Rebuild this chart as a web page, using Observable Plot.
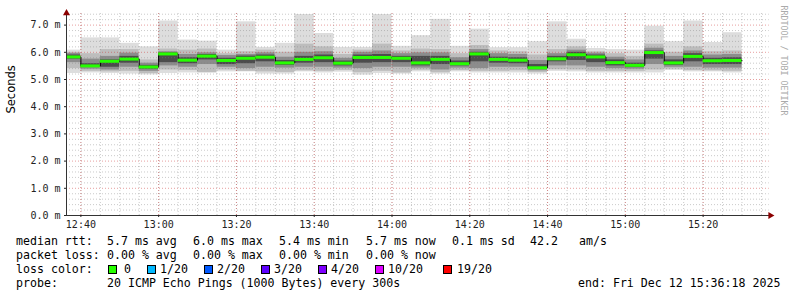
<!DOCTYPE html>
<html><head><meta charset="utf-8">
<script src="https://cdn.jsdelivr.net/npm/d3@7"></script>
<script src="https://cdn.jsdelivr.net/npm/@observablehq/plot@0.6"></script>
<style>
body{margin:0;background:#fff;}
#wrap{position:relative;width:797px;height:297px;overflow:hidden;background:#fff;}
#chart svg{display:block;}
.lg{position:absolute;font-family:"DejaVu Sans Mono",monospace;font-size:11.6px;line-height:14px;white-space:pre;color:#000;}
.sq{position:absolute;width:7px;height:7px;border:1px solid #000;}
</style></head><body>
<div id="wrap"><div id="chart"></div><div id="legend"></div></div>
<script>
// 5-minute slot start times (Dec 12 2025)
const slotStart = ["12:35","12:40","12:45","12:50","12:55","13:00","13:05","13:10","13:15","13:20","13:25","13:30","13:35","13:40","13:45","13:50","13:55","14:00","14:05","14:10","14:15","14:20","14:25","14:30","14:35","14:40","14:45","14:50","14:55","15:00","15:05","15:10","15:15","15:20","15:25"];
// median rtt (ms)
const medianMs = [5.83,5.50,5.67,5.75,5.46,5.94,5.71,5.86,5.70,5.78,5.82,5.61,5.74,5.80,5.60,5.81,5.81,5.78,5.61,5.74,5.58,5.94,5.74,5.71,5.43,5.76,5.91,5.83,5.62,5.52,5.99,5.61,5.85,5.69,5.70];
// smoke bands (ms): outer (min..max) and inner quantile bands
const minMs = [5.22,5.24,5.22,5.20,5.17,5.22,5.24,5.24,5.28,5.28,5.20,5.20,5.28,5.24,5.27,5.16,5.22,5.20,5.28,5.20,5.28,5.24,5.24,5.24,5.20,5.30,5.28,5.24,5.24,5.24,5.24,5.33,5.28,5.28,5.24];
const lo2Ms = [5.40,5.30,5.28,5.30,5.22,5.35,5.33,5.25,5.35,5.30,5.28,5.26,5.32,5.30,5.33,5.25,5.30,5.24,5.34,5.25,5.33,5.30,5.30,5.32,5.26,5.36,5.35,5.30,5.30,5.30,5.35,5.38,5.33,5.32,5.30];
const lo3Ms = [5.62,5.38,5.35,5.45,5.30,5.50,5.45,5.55,5.45,5.40,5.45,5.42,5.45,5.45,5.42,5.40,5.45,5.45,5.42,5.35,5.42,5.40,5.45,5.45,5.32,5.50,5.50,5.45,5.40,5.38,5.55,5.45,5.45,5.42,5.42];
const lo4Ms = [5.75,5.45,5.45,5.60,5.38,5.62,5.58,5.72,5.55,5.58,5.65,5.52,5.60,5.62,5.50,5.60,5.62,5.62,5.50,5.55,5.50,5.65,5.60,5.58,5.38,5.65,5.70,5.62,5.50,5.44,5.75,5.52,5.65,5.55,5.55];
const hi4Ms = [5.90,5.58,5.72,5.85,5.52,5.98,5.80,5.92,5.78,5.86,5.90,5.70,5.85,5.90,5.68,5.90,5.92,5.85,5.85,5.85,5.68,6.00,5.82,5.80,5.55,5.85,6.00,5.90,5.72,5.60,6.05,5.72,5.95,5.78,5.80];
const hi3Ms = [5.96,5.75,5.85,5.97,5.60,6.02,5.92,5.98,5.88,5.92,5.98,5.82,6.00,6.02,5.78,6.00,6.05,5.95,5.98,5.98,5.80,6.10,5.95,5.92,5.70,5.95,6.08,5.97,5.82,5.72,6.15,5.85,6.05,5.90,5.92];
const hi2Ms = [6.00,5.95,6.10,6.10,5.72,6.12,6.08,6.12,5.95,6.02,6.08,6.00,6.30,6.20,5.92,6.08,6.30,6.05,6.12,6.10,5.95,6.25,6.05,6.02,5.90,6.10,6.20,6.02,5.95,5.85,6.30,6.00,6.20,6.02,6.05];
const maxMs = [6.08,6.53,6.53,6.33,6.20,7.15,6.45,6.41,6.08,7.12,6.18,6.33,7.39,6.69,6.18,6.18,7.39,6.22,6.61,7.21,6.22,6.85,6.17,6.17,6.39,7.12,6.48,6.14,6.10,6.08,6.96,6.39,7.15,6.36,6.72];

const yTicks = [0,1,2,3,4,5,6,7];
const xTickLabels = ["12:40","13:00","13:20","13:40","14:00","14:20","14:40","15:00","15:20"];
const statsRtt = ["median rtt:","5.7 ms avg","6.0 ms max","5.4 ms min","5.7 ms now","0.1 ms sd","42.2","am/s"];
const statsLoss = ["packet loss:","0.00 % avg","0.00 % max","0.00 % min","0.00 % now"];
const lossLabels = ["0","1/20","2/20","3/20","4/20","10/20","19/20"];
const lossColors = ["#26ff00","#00b8ff","#0059ff","#5e00ff","#7e00ff","#dd00ff","#ff0000"];
const probeText = ["probe:","20 ICMP Echo Pings (1000 Bytes) every 300s","end: Fri Dec 12 15:36:18 2025"];

const t = s => { const [h,m] = s.split(":").map(Number); return new Date(Date.UTC(2025,11,12,h,m,0)); };
const T0 = new Date(Date.UTC(2025,11,12,12,36,18));
const T1 = new Date(Date.UTC(2025,11,12,15,36,18));
const MIN = 60000;

const bars = slotStart.map((s,i) => ({start: t(s), end: new Date(+t(s) + 5*MIN), median: medianMs[i]}));
const layerFills = ["#dddddd","#bdbdbd","#8c8c8c","#4c4c4c"];
const layers = [];
bars.forEach((b,i) => {
  const pairs = [[minMs[i],maxMs[i]],[lo2Ms[i],hi2Ms[i]],[lo3Ms[i],hi3Ms[i]],[lo4Ms[i],hi4Ms[i]]];
  pairs.forEach((p,k) => layers.push({x1:b.start, x2:b.end, y1:p[0], y2:p[1], fill:layerFills[k]}));
});
const medPts = bars.flatMap(b => [{x:b.start, y:b.median},{x:b.end, y:b.median}]);

const minorX = d3.utcMinute.every(5).range(t("12:40"), new Date(+T1));
const majorX = xTickLabels.map(t);
const minorY = d3.range(0, 7.5, 0.2).map(v => Math.round(v*10)/10).filter(v => !Number.isInteger(v));
const gridEnd = new Date(+T1 + 0.7*MIN);

const chart = Plot.plot({
  width: 797, height: 234,
  marginLeft: 66, marginRight: 31, marginTop: 11, marginBottom: 19,
  style: {fontFamily: "DejaVu Sans Mono", fontSize: "10px", color: "#222", background: "#fff"},
  x: {type: "utc", domain: [T0, T1]},
  y: {domain: [0, 7.5]},
  marks: [
    Plot.rect(layers, {x1:"x1", x2:"x2", y1:"y1", y2:"y2", fill:"fill", clip:true}),
    Plot.ruleY(minorY, {x1: () => T0, x2: () => gridEnd, stroke:"#808080", strokeOpacity:0.42, strokeDasharray:"1,2"}),
    Plot.ruleX(minorX, {y1: 0, y2: 7.5, stroke:"#808080", strokeOpacity:0.42, strokeDasharray:"1,2"}),
    Plot.ruleY(yTicks.slice(1), {x1: () => T0, x2: () => gridEnd, stroke:"#d04040", strokeOpacity:0.5, strokeDasharray:"1,2"}),
    Plot.ruleX(majorX, {y1: 0, y2: 7.5, stroke:"#d04040", strokeOpacity:0.5, strokeDasharray:"1,2"}),
    Plot.line(medPts, {x:"x", y:"y", stroke:"#000", strokeWidth:1, clip:true}),
    Plot.ruleY(bars, {x1:"start", x2:"end", y:"median", stroke:"#26ff00", strokeWidth:3, clip:true}),
    Plot.ruleY([0], {x1: () => T0, x2: () => new Date(+T1 + 0.9*MIN), stroke:"#333"}),
    Plot.ruleX([T0], {y1: 0, y2: 7.5, stroke:"#333"}),
    Plot.dot([0], {x: () => T0, y: () => 7.44, symbol:"triangle", r:2.6, fill:"#8b0000", stroke:null}),
    Plot.dot([0], {x: () => new Date(+T1 + 1.0*MIN), y: () => 0, symbol:"triangle", r:2.6, rotate:90, fill:"#8b0000", stroke:null}),
    Plot.axisX({ticks: majorX, tickFormat: d3.utcFormat("%H:%M"), tickSize: 2, tickPadding: 3, label: null}),
    Plot.axisY({ticks: yTicks, tickFormat: d => d.toFixed(1) + " m", tickSize: 2, tickPadding: 4, label: null}),
    Plot.text(["Seconds"], {frameAnchor:"left", dx:-55, rotate:-90, fontFamily:"DejaVu Sans", fontSize:11.5, fill:"#000"}),
    Plot.text(["RRDTOOL / TOBI OETIKER"], {frameAnchor:"top-right", dx:20, dy:-6, rotate:90, textAnchor:"start", fontFamily:"DejaVu Sans Mono", fontSize:8.3, fill:"#aaaaaa"})
  ]
});
document.getElementById("chart").appendChild(chart);

// legend below the chart
const lg = document.getElementById("legend");
function span(txt, x, cy){ const s=document.createElement("div"); s.className="lg"; s.textContent=txt; s.style.left=x+"px"; s.style.top=(cy-7)+"px"; lg.appendChild(s); }
const rttX = [16,107,193,279,366,452,530,579];
statsRtt.forEach((s,i) => span(s, rttX[i], 241));
const lossX = [16,107,193,279,366];
statsLoss.forEach((s,i) => span(s, lossX[i], 255));
span("loss color:", 16, 269);
const sqX = [108,147,204,261,318,375,443];
const lblX = [124,160,217,274,331,388,457];
lossLabels.forEach((l,i) => {
  const q=document.createElement("div"); q.className="sq"; q.style.left=sqX[i]+"px"; q.style.top="265px"; q.style.background=lossColors[i]; lg.appendChild(q);
  span(l, lblX[i], 269);
});
const probeX = [16,107,578];
probeText.forEach((s,i) => span(s, probeX[i], 283));
</script>
</body></html>
